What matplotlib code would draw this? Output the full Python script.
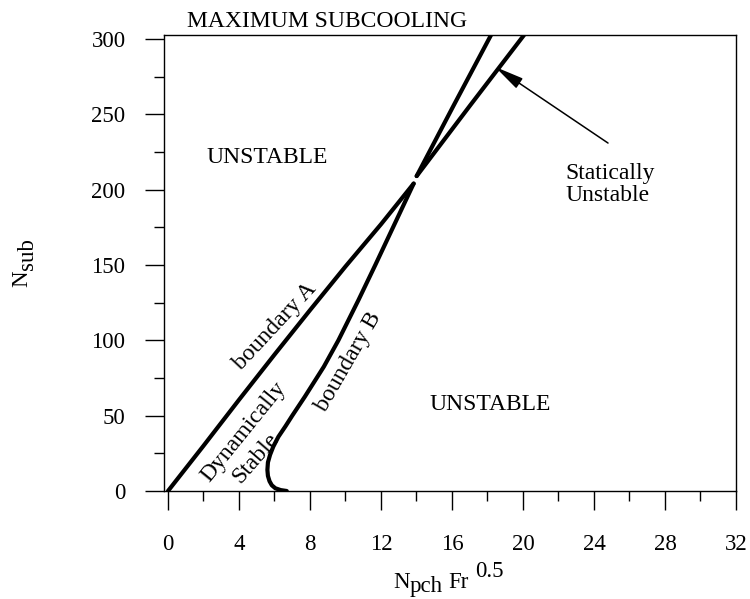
"""Stability map in the subcooling / phase-change number plane."""

from __future__ import annotations

import matplotlib

matplotlib.use("Agg")
import matplotlib.pyplot as plt
from matplotlib.ticker import MultipleLocator

matplotlib.rcParams["font.family"] = "Liberation Serif"

# boundary A: lower branch up to the crossing, upper branch beyond it
A_LOW_X = [0.0, 1.0, 2.0, 4.0, 6.0, 8.0, 10.0, 12.0, 13.84]
A_LOW_Y = [0.0, 15.0, 30.0, 60.5, 90.5, 120.0, 149.0, 177.0, 204.0]
A_UP_X = [14.01, 17.03, 20.06]
A_UP_Y = [209.0, 256.0, 302.6]

# boundary B: hooked foot near Nsub = 0, then nearly straight
B_LOW_X = [6.69, 6.35, 6.05, 5.85, 5.72, 5.63, 5.60, 5.63, 5.75, 5.93, 6.22, 6.62,
           7.00, 7.71, 8.78, 9.60, 10.73, 11.68, 12.76, 13.84]
B_LOW_Y = [0.0, 0.6, 1.8, 3.8, 6.5, 10.0, 14.0, 19.0, 24.0, 29.4, 36.0, 43.0,
           50.0, 62.6, 82.5, 100.0, 126.7, 150.0, 177.0, 204.0]
B_UP_X = [14.01, 16.1, 18.2]
B_UP_Y = [209.0, 256.0, 302.6]

X_TICKS = [0, 4, 8, 12, 16, 20, 24, 28, 32]
Y_TICKS = [0, 50, 100, 150, 200, 250, 300]

LABEL_SIZE = 16.5
NOTE_SIZE = 17


def text_run(fig, renderer, parts, x0, y0, size, vertical=False):
    """Lay out (string, raise px, gap px) pieces end to end from pixel (x0, y0)."""
    texts = []
    for s, shift, gap in parts:
        t = fig.text(0, 0, s, fontsize=size, transform=fig.dpi_scale_trans,
                     ha="left", va="baseline", rotation=90 if vertical else 0,
                     rotation_mode="anchor")
        texts.append((t, shift, gap))
    pos = x0 if not vertical else y0
    for t, shift, gap in texts:
        pos += gap
        if vertical:
            t.set_position(((x0 - shift) / fig.dpi, pos / fig.dpi))
            pos += t.get_window_extent(renderer).height
        else:
            t.set_position((pos / fig.dpi, (y0 + shift) / fig.dpi))
            pos += t.get_window_extent(renderer).width


def main() -> None:
    fig = plt.figure(figsize=(7.5, 5.99), dpi=100)
    ax = fig.add_axes([164 / 750, 108 / 599, 572 / 750, 456 / 599])

    for xs, ys in [(A_LOW_X, A_LOW_Y), (A_UP_X, A_UP_Y), (B_LOW_X, B_LOW_Y), (B_UP_X, B_UP_Y)]:
        ax.plot(xs, ys, color="black", linewidth=3.0, solid_capstyle="round",
                solid_joinstyle="round")

    ax.set_xlim(-0.225, 32)
    ax.set_ylim(0, 302.6)
    ax.set_xticks(X_TICKS)
    ax.set_yticks(Y_TICKS)
    ax.xaxis.set_minor_locator(MultipleLocator(2))
    ax.yaxis.set_minor_locator(MultipleLocator(25))
    ax.tick_params(which="major", direction="out", length=13.7, width=1.0, labelsize=LABEL_SIZE)
    ax.tick_params(which="minor", direction="out", length=7.0, width=1.0)
    ax.tick_params(axis="x", which="major", pad=17)
    ax.tick_params(axis="y", which="major", pad=14)
    for spine in ax.spines.values():
        spine.set_linewidth(1.0)

    ax.text(5.58, 221, "UNSTABLE", fontsize=NOTE_SIZE, ha="center", va="center")
    ax.text(18.14, 57.7, "UNSTABLE", fontsize=NOTE_SIZE, ha="center", va="center")
    ax.text(22.37, 203.5, "Statically\nUnstable", fontsize=NOTE_SIZE, ha="left", va="center",
            linespacing=1.1)
    ax.text(6.03, 109, "boundary A", fontsize=NOTE_SIZE, ha="center", va="center",
            rotation=47, rotation_mode="anchor")
    ax.text(10.16, 85.8, "boundary B", fontsize=NOTE_SIZE, ha="center", va="center",
            rotation=60, rotation_mode="anchor")
    ax.text(4.24, 39.3, "Dynamically", fontsize=NOTE_SIZE, ha="center", va="center",
            rotation=51, rotation_mode="anchor")
    ax.text(4.96, 21.9, "Stable", fontsize=NOTE_SIZE, ha="center", va="center",
            rotation=49, rotation_mode="anchor")

    ax.annotate("", xy=(18.42, 281.5), xytext=(24.79, 230.9),
                arrowprops=dict(arrowstyle="-|>,head_length=0.9,head_width=0.18",
                                color="black", lw=1.1, shrinkA=0, shrinkB=0,
                                mutation_scale=20))

    fig.text(187 / 750, (599 - 26.7) / 599, "MAXIMUM SUBCOOLING", fontsize=NOTE_SIZE,
             ha="left", va="baseline")

    renderer = fig.canvas.get_renderer()
    # axis titles with sub/superscripts placed by hand
    text_run(fig, renderer, [("N", 0, 0), ("pch", -4, 0), ("Fr", 0, 6), ("0.5", 11, 6)],
             393, 11, LABEL_SIZE)
    text_run(fig, renderer, [("N", 0, 0), ("sub", -6, 0)], 27, 599 - 287, LABEL_SIZE,
             vertical=True)

    fig.savefig("out.png", dpi=100)
    plt.close(fig)


if __name__ == "__main__":
    main()
